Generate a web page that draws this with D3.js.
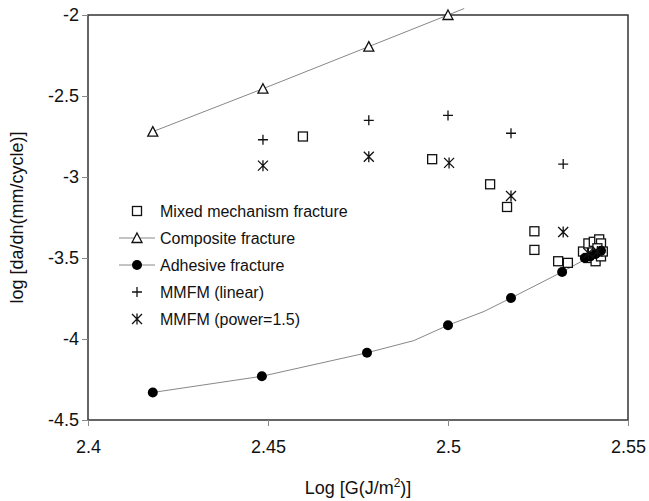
<!DOCTYPE html>
<html>
<head>
<meta charset="utf-8">
<script src="https://d3js.org/d3.v7.min.js"></script>
<style>
  body { margin: 0; background: #fff; }
  text { font-family: "Liberation Sans", Arial, sans-serif; fill: #111; }
</style>
</head>
<body>
<script>
// values: [logG, log da/dn]
var mixed = [[2.4597,-2.75],[2.4956,-2.89],[2.5117,-3.045],[2.5164,-3.185],[2.524,-3.335],
             [2.524,-3.45],[2.5306,-3.52],[2.5333,-3.53],[2.5375,-3.46],[2.539,-3.41],
             [2.5405,-3.40],[2.542,-3.385],[2.5425,-3.41],[2.539,-3.50],[2.541,-3.52],
             [2.5425,-3.49],[2.543,-3.46],[2.5415,-3.44]];
var composite = [[2.418,-2.72],[2.4486,-2.455],[2.478,-2.195],[2.5,-2.0]];
var compositeFit = [[2.418,-2.72],[2.4486,-2.455],[2.478,-2.195],[2.5,-2.0],[2.5045,-1.96]];
var adhesive = [[2.418,-4.33],[2.4483,-4.23],[2.4775,-4.085],[2.5,-3.915],[2.5175,-3.747],
                [2.5317,-3.586],[2.538,-3.50],[2.5395,-3.49],[2.541,-3.475],[2.5425,-3.455]];
var adhesiveFit = [[2.418,-4.33],[2.4483,-4.23],[2.4775,-4.085],[2.4905,-4.01],[2.5,-3.915],
                   [2.51,-3.83],[2.5175,-3.747],[2.5317,-3.586],[2.5425,-3.455]];
var linear = [[2.4486,-2.77],[2.478,-2.65],[2.5,-2.62],[2.5175,-2.73],[2.532,-2.92]];
var power15 = [[2.4486,-2.93],[2.478,-2.875],[2.5003,-2.913],[2.5175,-3.117],[2.532,-3.34],
               [2.539,-3.47],[2.5415,-3.46]];
var xTicks = [2.4, 2.45, 2.5, 2.55];
var yTicks = [-2, -2.5, -3, -3.5, -4, -4.5];
var legendNames = ["Mixed mechanism fracture","Composite fracture","Adhesive fracture",
                   "MMFM (linear)","MMFM (power=1.5)"];

var W = 649, H = 501;
var svg = d3.select("body").append("svg").attr("width", W).attr("height", H);

var x = d3.scaleLinear().domain([2.4, 2.55]).range([88, 628]);
var y = d3.scaleLinear().domain([-4.5, -2]).range([420, 15]);

// frame
svg.append("rect")
    .attr("x", x(2.4)).attr("y", y(-2))
    .attr("width", x(2.55) - x(2.4)).attr("height", y(-4.5) - y(-2))
    .attr("fill", "none").attr("stroke", "#333").attr("stroke-width", 1.5);

var xAxis = svg.append("g").attr("transform", "translate(0," + y(-4.5) + ")")
    .call(d3.axisBottom(x).tickValues(xTicks).tickSize(6).tickPadding(14)
          .tickFormat(function (d) { return d3.format("")(d); }));
var yAxis = svg.append("g").attr("transform", "translate(" + x(2.4) + ",0)")
    .call(d3.axisLeft(y).tickValues(yTicks).tickSize(6).tickPadding(3)
          .tickFormat(function (d) { return String(d); }));
[xAxis, yAxis].forEach(function (a) {
  a.select(".domain").remove();
  a.selectAll("line").attr("stroke", "#888");
  a.selectAll("text").style("font-size", "18px")
    .style("font-family", "'Liberation Sans', Arial, sans-serif").attr("fill", "#111");
});

// axis titles
var xt = svg.append("text").attr("x", (x(2.4) + x(2.55)) / 2).attr("y", 494)
    .attr("text-anchor", "middle").style("font-size", "18px");
xt.append("tspan").text("Log [G(J/m");
xt.append("tspan").attr("dy", -7).style("font-size", "12px").text("2");
xt.append("tspan").attr("dy", 7).text(")]");

svg.append("text")
    .attr("transform", "translate(23," + (y(-2) + y(-4.5)) / 2 + ") rotate(-90)")
    .attr("text-anchor", "middle").style("font-size", "18px")
    .text("log [da/dn(mm/cycle)]");

var line = d3.line().x(function (d) { return x(d[0]); }).y(function (d) { return y(d[1]); });
svg.append("path").datum(compositeFit).attr("d", line)
    .attr("fill", "none").attr("stroke", "#888").attr("stroke-width", 1);
svg.append("path").datum(adhesiveFit).attr("d", line)
    .attr("fill", "none").attr("stroke", "#888").attr("stroke-width", 1);

// marker drawers
function square(g) {
  g.append("rect").attr("x", -4.5).attr("y", -4.5).attr("width", 9).attr("height", 9)
    .attr("fill", "#fff").attr("stroke", "#111").attr("stroke-width", 1.3);
}
function triangle(g) {
  g.append("path").attr("d", "M0,-5L5,4.5L-5,4.5Z")
    .attr("fill", "#fff").attr("stroke", "#111").attr("stroke-width", 1.3);
}
function dot(g) {
  g.append("circle").attr("r", 5).attr("fill", "#000");
}
function plus(g) {
  g.append("path").attr("d", "M-5,0H5M0,-5V5").attr("stroke", "#111").attr("stroke-width", 1.3);
}
function star(g) {
  g.append("path").attr("d", "M-5,-5L5,5M-5,5L5,-5M0,-5.5V5.5")
    .attr("stroke", "#111").attr("stroke-width", 1.3);
}

function plot(data, draw) {
  svg.append("g").selectAll("g").data(data).enter().append("g")
    .attr("transform", function (d) { return "translate(" + x(d[0]) + "," + y(d[1]) + ")"; })
    .each(function () { draw(d3.select(this)); });
}
plot(mixed, square);
plot(composite, triangle);
plot(adhesive, dot);
plot(linear, plus);
plot(power15, star);

// legend
var drawers = [square, triangle, dot, plus, star];
var hasLine = [false, true, true, false, false];
var leg = svg.append("g").attr("transform", "translate(137,211)");
legendNames.forEach(function (name, i) {
  var row = leg.append("g").attr("transform", "translate(0," + (i * 27) + ")");
  if (hasLine[i]) {
    row.append("line").attr("x1", -18).attr("x2", 18).attr("stroke", "#888");
  }
  var m = row.append("g");
  drawers[i](m);
  row.append("text").attr("x", 23).attr("y", 6).style("font-size", "16px").text(name);
});
</script>
</body>
</html>
